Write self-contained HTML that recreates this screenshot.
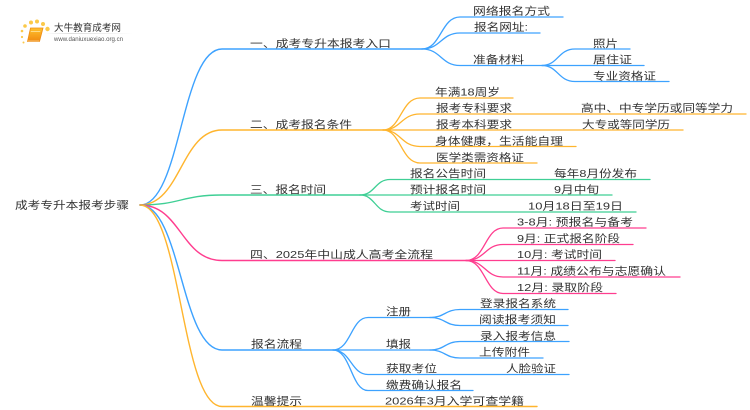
<!DOCTYPE html>
<html><head><meta charset="utf-8"><style>
html,body{margin:0;padding:0;background:#fff}
svg{display:block}
text{font-family:"Liberation Sans","Noto Sans CJK SC",sans-serif;font-size:10.5px;fill:#333}
path{fill:none;stroke-linecap:round}
.b{stroke:#3da2ff}.o{stroke:#ffb52e}.g{stroke:#3fcf95}.p{stroke:#ff3d8f}
</style></head><body>
<svg width="750" height="410" viewBox="0 0 750 410" xmlns="http://www.w3.org/2000/svg">
<defs>
<linearGradient id="bk" x1="0" y1="0" x2="0" y2="1"><stop offset="0" stop-color="#ffc12e"/><stop offset="1" stop-color="#f08a10"/></linearGradient>
<linearGradient id="fd" x1="0" y1="0" x2="1" y2="0"><stop offset="0" stop-color="#ddd" stop-opacity="0"/><stop offset=".3" stop-color="#ddd"/><stop offset="1" stop-color="#ddd" stop-opacity="0"/></linearGradient>
<filter id="s" x="-5%" y="-20%" width="110%" height="140%"><feGaussianBlur stdDeviation="0.35"/></filter>
</defs>
<!-- logo -->
<g fill="#fbc94a" filter="url(#s)">
<circle cx="25" cy="26" r="1.8"/><circle cx="31" cy="22.500" r="2"/><circle cx="37" cy="21.500" r="2"/><circle cx="43" cy="24" r="2"/><circle cx="47.500" cy="29" r="2.200"/><circle cx="22" cy="31" r="1.300"/><circle cx="22" cy="37" r="1.100"/><circle cx="23.500" cy="42.500" r="1"/>
</g>
<g filter="url(#s)">
<path d="M30.500 28H43L39.500 41.500H27.500Z" style="fill:url(#bk);stroke:#ee8c14;stroke-width:.8"/>
<path d="M31 31.500H40" style="stroke:#ffe9a8;stroke-width:.7"/>
<path d="M28 41H39" style="stroke:#fff2cc;stroke-width:.6"/>
</g>
<rect x="45" y="33" width="88" height="1" fill="url(#fd)"/>
<g filter="url(#s)">
<text x="54" y="31" textLength="67" lengthAdjust="spacingAndGlyphs" style="font-size:9.500px;fill:#333">大牛教育成考网</text>
<text x="54" y="41" textLength="69" lengthAdjust="spacingAndGlyphs" style="font-size:6.500px;fill:#555">www.daniuxuexiao.org.cn</text>
</g>

<!-- level 1 -->
<g stroke-width="1.400">
<path class="b" d="M140 205C181 205 181 49 222 49H422"/>
<path class="o" d="M140 205C181 205 181 130 222 130H383"/>
<path class="g" d="M140 205C181 205 181 195 222 195H360"/>
<path class="p" d="M140 205C181 205 181 260.500 222 260.500H466"/>
<path class="b" d="M140 205C181 205 181 350 222 350H333"/>
<path class="o" d="M140 205C181 205 181 406.500 222 406.500H537"/>
</g>
<!-- level 2 -->
<g stroke-width="1.300">
<path class="b" d="M422 49C441 49 441 17 460 17H563"/>
<path class="b" d="M422 49C441 49 441 33 460 33H540"/>
<path class="b" d="M422 49C441 49 441 65.500 460 65.500H542"/>
<path class="b" d="M542 65.500C558 65.500 558 49 575 49H630"/>
<path class="b" d="M542 65.500H644"/>
<path class="b" d="M542 65.500C558 65.500 558 81.500 575 81.500H669"/>

<path class="o" d="M383 130C401 130 401 98 420 98H513"/>
<path class="o" d="M383 130C401 130 401 114 420 114H746"/>
<path class="o" d="M383 130H683"/>
<path class="o" d="M383 130C401 130 401 146.500 420 146.500H576"/>
<path class="o" d="M383 130C401 130 401 163 420 163H537"/>

<path class="g" d="M360 195C375 195 375 179.500 390 179.500H650"/>
<path class="g" d="M360 195H612"/>
<path class="g" d="M360 195C375 195 375 212 390 212H636"/>

<path class="p" d="M466 260.500C485 260.500 485 228 503 228H646"/>
<path class="p" d="M466 260.500C485 260.500 485 244.500 503 244.500H633"/>
<path class="p" d="M466 260.500H615"/>
<path class="p" d="M466 260.500C485 260.500 485 277 503 277H680"/>
<path class="p" d="M466 260.500C485 260.500 485 293.500 503 293.500H616"/>

<path class="b" d="M333 350C351 350 351 317.500 368 317.500H430"/>
<path class="b" d="M333 350H430"/>
<path class="b" d="M333 350C351 350 351 374.500 368 374.500H569"/>
<path class="b" d="M333 350C351 350 351 390.500 368 390.500H473"/>
<path class="b" d="M430 317.500C445 317.500 445 309.500 460 309.500H568"/>
<path class="b" d="M430 317.500C445 317.500 445 325.500 460 325.500H568"/>
<path class="b" d="M430 350C445 350 445 341.500 460 341.500H569"/>
<path class="b" d="M430 350C445 350 445 358 460 358H543"/>
</g>
<!-- labels -->
<g filter="url(#s)" transform="translate(0,-0.5)">
<text x="15" y="209" textLength="114" lengthAdjust="spacingAndGlyphs">成考专升本报考步骤</text>
<text x="250" y="47.500" textLength="141" lengthAdjust="spacingAndGlyphs">一、成考专升本报考入口</text>
<text x="473" y="15" textLength="77" lengthAdjust="spacingAndGlyphs">网络报名方式</text>
<text x="474" y="31" textLength="54" lengthAdjust="spacingAndGlyphs">报名网址:</text>
<text x="473" y="63.500" textLength="51" lengthAdjust="spacingAndGlyphs">准备材料</text>
<text x="593" y="47.500" textLength="25" lengthAdjust="spacingAndGlyphs">照片</text>
<text x="593" y="63.500" textLength="39" lengthAdjust="spacingAndGlyphs">居住证</text>
<text x="593" y="80" textLength="63" lengthAdjust="spacingAndGlyphs">专业资格证</text>

<text x="250" y="128.500" textLength="102" lengthAdjust="spacingAndGlyphs">二、成考报名条件</text>
<text x="435" y="96" textLength="65" lengthAdjust="spacingAndGlyphs">年满18周岁</text>
<text x="436" y="112" textLength="76" lengthAdjust="spacingAndGlyphs">报考专科要求</text>
<text x="436" y="128.500" textLength="76" lengthAdjust="spacingAndGlyphs">报考本科要求</text>
<text x="581" y="112" textLength="152" lengthAdjust="spacingAndGlyphs">高中、中专学历或同等学力</text>
<text x="582" y="128.500" textLength="88" lengthAdjust="spacingAndGlyphs">大专或等同学历</text>
<text x="435" y="145" textLength="128" lengthAdjust="spacingAndGlyphs">身体健康，生活能自理</text>
<text x="436" y="161.500" textLength="88" lengthAdjust="spacingAndGlyphs">医学类需资格证</text>

<text x="250" y="193.500" textLength="76" lengthAdjust="spacingAndGlyphs">三、报名时间</text>
<text x="410" y="177.500" textLength="76" lengthAdjust="spacingAndGlyphs">报名公告时间</text>
<text x="410" y="193.500" textLength="76" lengthAdjust="spacingAndGlyphs">预计报名时间</text>
<text x="410" y="210" textLength="50" lengthAdjust="spacingAndGlyphs">考试时间</text>
<text x="554" y="177.500" textLength="83" lengthAdjust="spacingAndGlyphs">每年8月份发布</text>
<text x="554" y="193.500" textLength="45" lengthAdjust="spacingAndGlyphs">9月中旬</text>
<text x="528" y="210" textLength="95" lengthAdjust="spacingAndGlyphs">10月18日至19日</text>

<text x="250" y="258.500" textLength="183" lengthAdjust="spacingAndGlyphs">四、2025年中山成人高考全流程</text>
<text x="517" y="226" textLength="116" lengthAdjust="spacingAndGlyphs">3-8月: 预报名与备考</text>
<text x="517" y="242.500" textLength="103" lengthAdjust="spacingAndGlyphs">9月: 正式报名阶段</text>
<text x="517" y="258.500" textLength="85" lengthAdjust="spacingAndGlyphs">10月: 考试时间</text>
<text x="517" y="275" textLength="149" lengthAdjust="spacingAndGlyphs">11月: 成绩公布与志愿确认</text>
<text x="517" y="291.500" textLength="86" lengthAdjust="spacingAndGlyphs">12月: 录取阶段</text>

<text x="251" y="348" textLength="51" lengthAdjust="spacingAndGlyphs">报名流程</text>
<text x="386" y="315.500" textLength="25" lengthAdjust="spacingAndGlyphs">注册</text>
<text x="386" y="348" textLength="25" lengthAdjust="spacingAndGlyphs">填报</text>
<text x="386" y="372.500" textLength="51" lengthAdjust="spacingAndGlyphs">获取考位</text>
<text x="386" y="389" textLength="76" lengthAdjust="spacingAndGlyphs">缴费确认报名</text>
<text x="480" y="307.500" textLength="76" lengthAdjust="spacingAndGlyphs">登录报名系统</text>
<text x="479" y="323.500" textLength="77" lengthAdjust="spacingAndGlyphs">阅读报考须知</text>
<text x="480" y="340" textLength="76" lengthAdjust="spacingAndGlyphs">录入报考信息</text>
<text x="479" y="356" textLength="51" lengthAdjust="spacingAndGlyphs">上传附件</text>
<text x="506" y="372.500" textLength="50" lengthAdjust="spacingAndGlyphs">人脸验证</text>
<text x="251" y="405" textLength="51" lengthAdjust="spacingAndGlyphs">温馨提示</text>
<text x="385" y="405" textLength="139" lengthAdjust="spacingAndGlyphs">2026年3月入学可查学籍</text>
</g>
</svg>
</body></html>
